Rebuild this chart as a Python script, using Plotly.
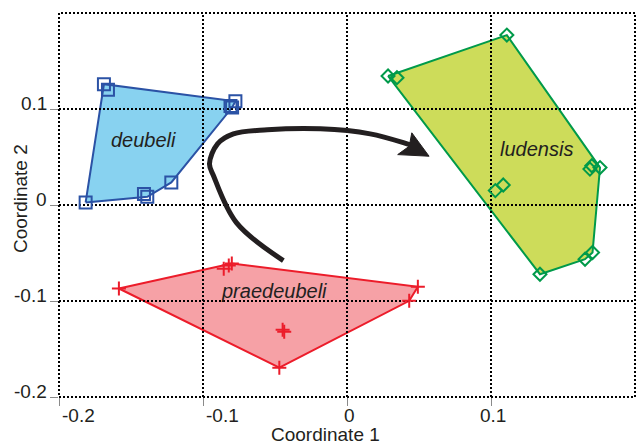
import plotly.graph_objects as go

# ---------------- data ----------------
deubeli_x = [-0.1688, -0.1660, -0.0809, -0.0775, -0.0798, -0.1815, -0.1410, -0.1387, -0.1220]
deubeli_y = [0.1258, 0.1200, 0.1030, 0.1081, 0.1015, 0.0027, 0.0114, 0.0086, 0.0235]

praedeubeli_x = [-0.1584, -0.0821, -0.0856, -0.0800, -0.0447, -0.0436, -0.0470, 0.0492, 0.0432]
praedeubeli_y = [-0.0870, -0.0630, -0.0665, -0.0610, -0.1300, -0.1320, -0.1695, -0.0852, -0.0998]

ludensis_x = [0.1110, 0.0285, 0.0347, 0.1700, 0.1757, 0.1687, 0.1030, 0.1085, 0.1340, 0.1653, 0.1705]
ludensis_y = [0.1770, 0.1344, 0.1326, 0.0409, 0.0390, 0.0374, 0.0150, 0.0208, -0.0721, -0.0565, -0.0495]

group_names = ["deubeli", "praedeubeli", "ludensis"]
label_x = [-0.1413, -0.0504, 0.1313]
label_y = [0.0679, -0.0891, 0.0585]

x_ticks = [-0.2, -0.1, 0, 0.1]
x_tick_text = ["-0.2", "-0.1", "0", "0.1"]
y_ticks = [-0.2, -0.1, 0, 0.1]
y_tick_text = ["-0.2", "-0.1", "0", "0.1"]
grid_x = [-0.1, 0, 0.1]
grid_y = [-0.1, 0, 0.1]
x_range = [-0.2, 0.2]
y_range = [-0.2, 0.2]

arrow_x = [-0.0442, -0.0768, -0.0927, -0.0955, -0.0899, -0.0789, -0.0553, -0.0185, 0.0161, 0.0418, 0.0460]
arrow_y = [-0.0579, -0.0184, 0.0305, 0.0429, 0.0637, 0.0741, 0.0783, 0.0793, 0.0741, 0.0637, 0.0616]
head_x = [0.0570, 0.0450, 0.0432, 0.0352]
head_y = [0.0508, 0.0752, 0.0612, 0.0525]


def hull(xs, ys):
    pts = sorted(set(zip(xs, ys)))

    def cross(o, a, b):
        return (a[0] - o[0]) * (b[1] - o[1]) - (a[1] - o[1]) * (b[0] - o[0])

    lower, upper = [], []
    for p in pts:
        while len(lower) >= 2 and cross(lower[-2], lower[-1], p) <= 0:
            lower.pop()
        lower.append(p)
    for p in reversed(pts):
        while len(upper) >= 2 and cross(upper[-2], upper[-1], p) <= 0:
            upper.pop()
        upper.append(p)
    h = lower[:-1] + upper[:-1]
    h.append(h[0])
    return [p[0] for p in h], [p[1] for p in h]


groups = [
    (deubeli_x, deubeli_y, "#2b52a5", "#88d2f0", "square-open", 12),
    (praedeubeli_x, praedeubeli_y, "#ec1c2a", "#f6a1a6", "cross-thin-open", 10),
    (ludensis_x, ludensis_y, "#009a4a", "#cddc5a", "diamond-open", 10),
]

fig = go.Figure()

# hull fills
for xs, ys, lc, fc, sym, sz in groups:
    hx, hy = hull(xs, ys)
    fig.add_trace(go.Scatter(x=hx, y=hy, mode="lines", fill="toself",
                             fillcolor=fc, line=dict(color=lc, width=2),
                             hoverinfo="skip", showlegend=False))

# dotted grid lines (above fills)
DOT = "2px,2px"
for gx in grid_x:
    fig.add_trace(go.Scatter(x=[gx, gx], y=y_range, mode="lines",
                             line=dict(color="#000000", width=2, dash=DOT),
                             hoverinfo="skip", showlegend=False))
for gy in grid_y:
    fig.add_trace(go.Scatter(x=x_range, y=[gy, gy], mode="lines",
                             line=dict(color="#000000", width=2, dash=DOT),
                             hoverinfo="skip", showlegend=False))

# markers
for xs, ys, lc, fc, sym, sz in groups:
    fig.add_trace(go.Scatter(x=xs, y=ys, mode="markers",
                             marker=dict(symbol=sym, size=sz, color=lc,
                                         line=dict(color=lc, width=2)),
                             showlegend=False))

# arrow
fig.add_trace(go.Scatter(x=arrow_x, y=arrow_y, mode="lines",
                         line=dict(color="#231f20", width=5, shape="spline", smoothing=1.0),
                         hoverinfo="skip", showlegend=False))
fig.add_trace(go.Scatter(x=head_x + head_x[:1], y=head_y + head_y[:1], mode="lines",
                         fill="toself", fillcolor="#231f20",
                         line=dict(color="#231f20", width=1),
                         hoverinfo="skip", showlegend=False))

FONT = "Liberation Sans, Arial, sans-serif"
TXT = "#231f20"

# group labels
for name, lx, ly in zip(group_names, label_x, label_y):
    fig.add_annotation(x=lx, y=ly, text="<i>%s</i>" % name, showarrow=False,
                       xanchor="center", yanchor="middle",
                       font=dict(family=FONT, size=20, color=TXT))

# x tick labels
for v, t in zip(x_ticks, x_tick_text):
    neg = t.startswith("-")
    fig.add_annotation(x=v, xref="x", y=0, yref="paper", text=t, showarrow=False,
                       xanchor="left" if neg else "center", yanchor="middle",
                       xshift=2, yshift=-18, borderpad=0,
                       font=dict(family=FONT, size=19, color=TXT))
# y tick labels
for v, t in zip(y_ticks, y_tick_text):
    fig.add_annotation(x=0, xref="paper", y=v, yref="y", text=t, showarrow=False,
                       xanchor="right", yanchor="middle", xshift=-11, yshift=5.5,
                       borderpad=0, font=dict(family=FONT, size=19, color=TXT))

# axis titles
fig.add_annotation(x=0.4635, xref="paper", y=0, yref="paper", text="Coordinate 1",
                   showarrow=False, xanchor="center", yanchor="middle", yshift=-37,
                   borderpad=0, font=dict(family=FONT, size=19, color=TXT))
fig.add_annotation(x=-0.0677, xref="paper", y=0.5156, yref="paper", text="Coordinate 2",
                   showarrow=False, xanchor="center", yanchor="middle", textangle=-90,
                   borderpad=0, font=dict(family=FONT, size=19, color=TXT))

# dotted frame
fig.add_shape(type="rect", xref="paper", yref="paper", x0=0, y0=0, x1=1, y1=1,
              line=dict(color="#000000", width=2, dash=DOT), layer="above")

axis_common = dict(showgrid=False, zeroline=False, showline=False,
                   ticks="outside", ticklen=8, tickwidth=1, tickcolor="#8a8a8a",
                   showticklabels=False)
fig.update_xaxes(range=x_range, tickvals=x_ticks, **axis_common)
fig.update_yaxes(range=y_range, tickvals=y_ticks, **axis_common)

fig.update_layout(width=639, height=444, margin=dict(l=59, r=4, t=13, b=47),
                  plot_bgcolor="white", paper_bgcolor="white",
                  font=dict(family=FONT, color=TXT))

fig.write_html("out.html", config={"displayModeBar": False},
               post_script="document.body.style.margin='0';document.body.style.overflow='hidden';")
